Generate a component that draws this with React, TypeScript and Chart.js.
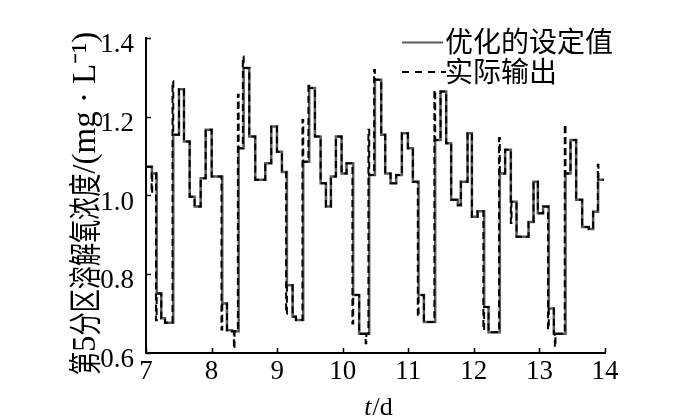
import React, { useEffect, useRef } from "react";
import { Chart, registerables } from "chart.js";
Chart.register(...registerables);

const xTicks = [7, 8, 9, 10, 11, 12, 13, 14];
const yTicks = [0.6, 0.8, 1.0, 1.2, 1.4];
const legendLabels = ["优化的设定值", "实际输出"];
// y title pieces: [text, isCJK]
const yTitleParts: [string, boolean][] = [["第", true], ["5", false], ["分区溶解氧浓度", true], ["/(mg · L⁻¹)", false]];
const xTitleItalic = "t";
const xTitleRest = "/d";

// optimized set-point (step starts)
const setT = [7.000, 7.091, 7.163, 7.233, 7.290, 7.416, 7.503, 7.579, 7.666, 7.742, 7.834, 7.910, 8.002,
  8.163, 8.235, 8.311, 8.413, 8.489, 8.575, 8.666, 8.819, 8.910, 8.997, 9.073,
  9.149, 9.236, 9.287, 9.398, 9.489, 9.576, 9.663, 9.744, 9.820, 9.896, 9.983, 10.059,
  10.160, 10.251, 10.404, 10.491, 10.587, 10.648, 10.730, 10.816, 10.902, 10.994, 11.070,
  11.157, 11.238, 11.410, 11.492, 11.578, 11.654, 11.756, 11.802, 11.904, 11.970, 12.056,
  12.157, 12.224, 12.396, 12.477, 12.564, 12.651, 12.834, 12.910, 12.976, 13.056,
  13.143, 13.220, 13.398, 13.474, 13.560, 13.652, 13.753, 13.819, 13.895, 13.982];
const setV = [1.073, 1.056, 0.751, 0.688, 0.677, 1.154, 1.270, 1.137, 0.997, 0.972, 1.044, 1.167, 1.048,
  0.726, 0.658, 0.655, 1.120, 1.324, 1.150, 1.040, 1.082, 1.175, 1.111, 1.060,
  0.772, 0.692, 0.684, 1.086, 1.273, 1.150, 1.031, 0.972, 1.048, 1.150, 1.056, 1.082,
  0.747, 0.649, 1.052, 1.294, 1.154, 1.056, 1.031, 1.052, 1.158, 1.120, 1.035,
  0.747, 0.679, 1.141, 1.264, 1.133, 0.989, 0.975, 1.035, 1.158, 0.946, 0.960,
  0.717, 0.653, 1.056, 1.116, 0.984, 0.895, 0.933, 1.035, 0.955, 0.972,
  0.713, 0.649, 1.056, 1.141, 0.989, 0.920, 0.915, 0.959, 1.040, 1.040];

// actual output
const outT = [7.000, 7.085, 7.095, 7.152, 7.163, 7.233, 7.290, 7.404, 7.416, 7.503, 7.579, 7.666, 7.742, 7.834, 7.910, 8.002,
  8.151, 8.163, 8.235, 8.311, 8.340, 8.350, 8.401, 8.413, 8.477, 8.489, 8.575, 8.666, 8.819, 8.910, 8.997, 9.073,
  9.137, 9.149, 9.236, 9.287, 9.386, 9.398, 9.477, 9.489, 9.576, 9.663, 9.744, 9.820, 9.896, 9.983, 10.059,
  10.148, 10.160, 10.251, 10.350, 10.360, 10.392, 10.404, 10.479, 10.491, 10.587, 10.648, 10.730, 10.816, 10.902, 10.994, 11.070,
  11.145, 11.157, 11.238, 11.398, 11.410, 11.492, 11.578, 11.654, 11.756, 11.802, 11.904, 11.970, 12.056,
  12.145, 12.157, 12.224, 12.384, 12.396, 12.477, 12.564, 12.574, 12.651, 12.834, 12.910, 12.976, 13.056,
  13.131, 13.143, 13.220, 13.235, 13.245, 13.386, 13.398, 13.474, 13.560, 13.652, 13.753, 13.819, 13.890, 13.900, 13.982];
const outV = [1.073, 1.006, 1.056, 0.683, 0.751, 0.688, 0.677, 1.290, 1.154, 1.270, 1.137, 0.997, 0.972, 1.044, 1.167, 1.048,
  0.660, 0.726, 0.658, 0.655, 0.611, 0.655, 1.256, 1.120, 1.353, 1.324, 1.150, 1.040, 1.082, 1.175, 1.111, 1.060,
  0.700, 0.772, 0.692, 0.684, 1.192, 1.086, 1.285, 1.273, 1.150, 1.031, 0.972, 1.048, 1.150, 1.056, 1.082,
  0.675, 0.747, 0.649, 0.625, 0.649, 1.167, 1.052, 1.319, 1.294, 1.154, 1.056, 1.031, 1.052, 1.158, 1.120, 1.035,
  0.692, 0.747, 0.679, 1.268, 1.141, 1.264, 1.133, 0.989, 0.975, 1.035, 1.158, 0.946, 0.960,
  0.658, 0.717, 0.653, 1.146, 1.056, 1.116, 0.930, 0.984, 0.895, 0.933, 1.035, 0.955, 0.972,
  0.660, 0.713, 0.649, 0.615, 0.649, 1.180, 1.056, 1.141, 0.989, 0.920, 0.915, 0.959, 1.078, 1.040, 1.040];

const SERIF = '"Liberation Serif", "Times New Roman", serif';
const CJKFONT = '"Noto Sans CJK SC", sans-serif';

const decor = {
  id: "decor",
  afterDraw(chart: any) {
    const { ctx, chartArea: a, scales } = chart;
    ctx.save();
    ctx.strokeStyle = "#000";
    ctx.lineWidth = 1.5;
    ctx.setLineDash([]);
    for (const v of xTicks) {
      const px = Math.round(scales.x.getPixelForValue(v)) + 0.5;
      ctx.beginPath();
      ctx.moveTo(px, a.bottom);
      ctx.lineTo(px, a.bottom - 5);
      ctx.stroke();
    }
    for (const v of yTicks) {
      const py = Math.round(scales.y.getPixelForValue(v)) + 0.5;
      ctx.beginPath();
      ctx.moveTo(a.left, py);
      ctx.lineTo(a.left + 5, py);
      ctx.stroke();
    }
    // legend
    ctx.lineWidth = 2;
    ctx.strokeStyle = "#5a5a5a";
    ctx.beginPath();
    ctx.moveTo(402, 42.5);
    ctx.lineTo(443, 42.5);
    ctx.stroke();
    ctx.strokeStyle = "#000";
    ctx.setLineDash([7, 6]);
    ctx.beginPath();
    ctx.moveTo(402, 72);
    ctx.lineTo(446, 72);
    ctx.stroke();
    ctx.setLineDash([]);
    ctx.fillStyle = "#000";
    ctx.font = "28px " + CJKFONT;
    ctx.textAlign = "left";
    ctx.textBaseline = "middle";
    ctx.fillText(legendLabels[0], 445, 41);
    ctx.fillText(legendLabels[1], 445, 71);
    // x title
    ctx.textBaseline = "alphabetic";
    ctx.font = "italic 26px " + SERIF;
    const w1 = ctx.measureText(xTitleItalic).width;
    ctx.font = "26px " + SERIF;
    const w2 = ctx.measureText(xTitleRest).width;
    const x0 = 378 - (w1 + w2) / 2;
    ctx.font = "italic 26px " + SERIF;
    ctx.fillText(xTitleItalic, x0, 415);
    ctx.font = "26px " + SERIF;
    ctx.fillText(xTitleRest, x0 + w1 + 1, 415);
    // y title (rotated, starting at bottom y=375)
    ctx.save();
    ctx.translate(84, 375);
    ctx.rotate(-Math.PI / 2);
    ctx.textAlign = "left";
    ctx.textBaseline = "middle";
    let pos = 0;
    for (const [txt, cjk] of yTitleParts) {
      if (cjk) {
        ctx.font = "33px " + CJKFONT;
        const w = ctx.measureText(txt).width;
        const sc = 0.7;
        ctx.save();
        ctx.translate(pos, 0);
        ctx.scale(sc, 1);
        ctx.fillText(txt, 0, 0);
        ctx.restore();
        pos += w * sc;
      } else {
        ctx.font = "33px " + SERIF;
        ctx.fillText(txt, pos, 2);
        pos += ctx.measureText(txt).width;
      }
    }
    ctx.restore();
    ctx.restore();
  },
};

export default function App() {
  const ref = useRef<HTMLCanvasElement | null>(null);
  useEffect(() => {
    if (!ref.current) return;
    const chart = new Chart(ref.current, {
      type: "line",
      data: {
        datasets: [
          {
            label: legendLabels[0],
            data: setT.map((t, i) => ({ x: t, y: setV[i] })),
            stepped: "before",
            borderColor: "#5a5a5a",
            borderWidth: 2.5,
            pointRadius: 0,
            fill: false,
            order: 2,
          },
          {
            label: legendLabels[1],
            data: outT.map((t, i) => ({ x: t, y: outV[i] })),
            stepped: "before",
            borderColor: "#000",
            borderWidth: 2,
            borderDash: [7, 4],
            pointRadius: 0,
            fill: false,
            order: 1,
          },
        ],
      },
      options: {
        animation: false,
        responsive: false,
        devicePixelRatio: 1,
        layout: { padding: { top: 38, right: 95, left: 0, bottom: 0 } },
        plugins: { legend: { display: false }, tooltip: { enabled: false } },
        scales: {
          x: {
            type: "linear",
            min: 7,
            max: 14,
            afterFit: (s: any) => { s.height = 64; },
            afterBuildTicks: (s: any) => { s.ticks = xTicks.map((v) => ({ value: v })); },
            ticks: { font: { family: SERIF, size: 27 }, color: "#000", padding: -5, maxRotation: 0, autoSkip: false },
            grid: { display: false },
            border: { display: true, color: "#000", width: 2 },
          },
          y: {
            type: "linear",
            min: 0.6,
            max: 1.4,
            afterFit: (s: any) => { s.width = 146; },
            afterBuildTicks: (s: any) => { s.ticks = yTicks.map((v) => ({ value: v })); },
            ticks: {
              font: { family: SERIF, size: 27 },
              color: "#000",
              padding: 4,
              labelOffset: 7,
              callback: (v: any) => Number(v).toFixed(1),
            },
            grid: { display: false },
            border: { display: true, color: "#000", width: 2 },
          },
        },
      },
      plugins: [decor],
    });
    return () => chart.destroy();
  }, []);
  return (
    <div style={{ position: "fixed", left: 0, top: 0, width: 700, height: 417, background: "#fff" }}>
      <canvas ref={ref} width={700} height={417} style={{ display: "block" }} />
    </div>
  );
}
